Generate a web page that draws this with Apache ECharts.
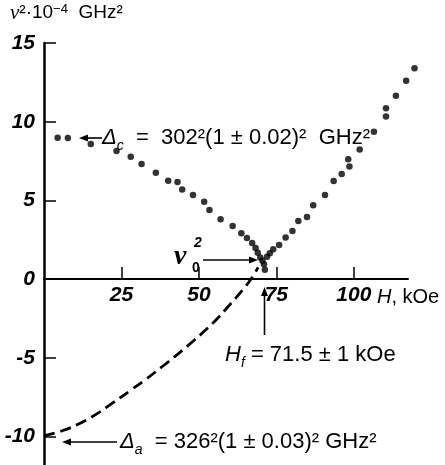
<!DOCTYPE html>
<html>
<head>
<meta charset="utf-8">
<script src="https://cdn.jsdelivr.net/npm/echarts@6/dist/echarts.min.js"></script>
<style>
  html, body { margin: 0; padding: 0; background: #fff; }
  #chart { width: 445px; height: 465px; }
</style>
</head>
<body>
<div id="chart"></div>
<script>
// field H (kOe) and nu^2 (10^4 GHz^2)
const leftH = [4.4, 7.7, 15.1, 23.4, 28.0, 31.5, 36.1, 40.1, 43.1, 44.6, 48.1, 51.7, 53.4, 57.0, 60.9,
  63.7, 65.5, 67.2, 68.3, 69.0, 69.8, 70.5, 71.0, 71.3];
const leftV = [8.98, 8.96, 8.58, 8.14, 7.77, 7.31, 6.76, 6.25, 6.17, 5.70, 5.34, 4.91, 4.39, 3.80, 3.38,
  2.92, 2.61, 2.29, 1.97, 1.68, 1.38, 1.16, 0.95, 0.60];
const rightH = [72.0, 72.9, 74.0, 75.9, 78.0, 80.2, 82.1, 84.9, 86.9, 90.7, 93.5, 96.1, 98.6, 98.2,
  101.9, 106.5, 110.4, 110.4, 113.6, 116.9, 119.6];
const rightV = [1.42, 1.65, 1.89, 2.16, 2.65, 3.06, 3.69, 3.94, 4.69, 5.34, 6.23, 6.68, 7.15, 7.61,
  8.23, 9.36, 10.33, 10.85, 11.65, 12.60, 13.39];
// dashed extrapolation down to -Delta_a
const dashH = [0, 6.1, 11.5, 16.9, 22.3, 27.7, 33.1, 38.4, 43.3, 48.1, 52.5, 56.2, 60.0, 64.0, 67.0, 69.1];
const dashV = [-9.95, -9.62, -9.17, -8.58, -7.85, -7.10, -6.33, -5.52, -4.75, -3.95, -3.17, -2.45,
  -1.62, -0.72, 0.05, 0.75];
const xTicks = [25, 50, 75, 100];
const yTicks = [-10, -5, 0, 5, 10, 15];

const zip = (a, b) => a.map((v, i) => [v, b[i]]);
const tickFont = {
  fontFamily: 'Liberation Sans', fontStyle: 'italic', fontWeight: 'bold', fontSize: 21, color: '#000'
};
const sans = 'Liberation Sans, Arial, sans-serif';

function arrow(x1, y1, x2, y2) {
  // shaft from (x1,y1) to head at (x2,y2)
  const a = Math.atan2(y2 - y1, x2 - x1), L = 9, W = 3.5;
  const bx = x2 - L * Math.cos(a), by = y2 - L * Math.sin(a);
  return [
    { type: 'line', shape: { x1, y1, x2: bx, y2: by }, style: { stroke: '#000', lineWidth: 1.6 } },
    { type: 'polygon', shape: { points: [[x2, y2],
      [bx + W * Math.sin(a), by - W * Math.cos(a)], [bx - W * Math.sin(a), by + W * Math.cos(a)]] },
      style: { fill: '#000' } }
  ];
}
function label(x, y, text, rich, size) {
  return { type: 'text', x, y, style: { text, rich, fill: '#000', fontFamily: sans,
    fontSize: size || 22, verticalAlign: 'middle', align: 'left' } };
}
const richBase = {
  i: { fontStyle: 'italic', fontFamily: sans, fontSize: 22 },
  s: { fontStyle: 'italic', fontFamily: sans, fontSize: 14, verticalAlign: 'bottom', padding: [0, 0, -4, 0] }
};
const richSmall = {
  i: { fontStyle: 'italic', fontFamily: sans, fontSize: 20 }
};

const chart = echarts.init(document.getElementById('chart'));
chart.setOption({
  animation: false,
  grid: { left: 44, right: 37, top: 43, bottom: -3, containLabel: false, outerBoundsMode: 'none' },
  xAxis: {
    type: 'value', min: 0, max: 117.5,
    // drawn at nu^2 = 0: grid bottom is 189 px below the zero line
    axisLine: { onZero: false, lineStyle: { color: '#000', width: 2 } },
    offset: -189,
    axisTick: { inside: true, length: 12, customValues: xTicks, lineStyle: { color: '#000', width: 1.5 } },
    axisLabel: Object.assign({ customValues: xTicks, margin: 6 }, tickFont),
    splitLine: { show: false }
  },
  yAxis: {
    type: 'value', min: -12, max: 15,
    axisLine: { show: true, lineStyle: { color: '#000', width: 2.5 } },
    axisTick: { inside: true, length: 12, customValues: yTicks, lineStyle: { color: '#000', width: 1.5 } },
    axisLabel: Object.assign({ customValues: yTicks, margin: 9,
      formatter: v => String(v) }, tickFont),
    splitLine: { show: false }
  },
  series: [
    { type: 'line', data: zip(dashH, dashV), smooth: true, showSymbol: false, silent: true,
      lineStyle: { color: '#000', width: 2.8, type: [11, 6] } },
    { type: 'scatter', data: zip(leftH, leftV), symbolSize: 6.5, clip: false,
      itemStyle: { color: '#000' } },
    { type: 'scatter', data: zip(rightH, rightV), symbolSize: 6.5, clip: false,
      itemStyle: { color: '#000' } }
  ],
  graphic: [
    label(10, 13, '{n|\u03bd}\u00b2\u00b7{v|10}{sup|\u22124}  GHz\u00b2', {
      n: { fontFamily: 'Liberation Serif', fontStyle: 'italic', fontSize: 21 },
      v: { fontFamily: sans, fontSize: 19 },
      sup: { fontFamily: sans, fontSize: 13, verticalAlign: 'top' }
    }, 19),
    label(102, 138, '{i|\u0394}{s|c}  =  302\u00b2(1 \u00b1 0.02)\u00b2  GHz\u00b2', richBase),
    label(120, 442, '{i|\u0394}{s|a}  = 326\u00b2(1 \u00b1 0.03)\u00b2 GHz\u00b2', richBase),
    label(225, 355, '{i|H}{s|f} = 71.5 \u00b1 1 kOe', richBase),
    label(377, 297, '{i|H}, kOe', richSmall, 20),
    { type: 'text', x: 174, y: 257, style: { text: '\u03bd', fill: '#000', fontFamily: 'Liberation Serif',
      fontStyle: 'italic', fontWeight: 'bold', fontSize: 28, verticalAlign: 'middle' } },
    { type: 'text', x: 194, y: 243, style: { text: '2', fill: '#000', fontFamily: sans,
      fontStyle: 'italic', fontWeight: 'bold', fontSize: 14, verticalAlign: 'middle' } },
    { type: 'text', x: 192, y: 268, style: { text: '0', fill: '#000', fontFamily: sans,
      fontWeight: 'bold', fontSize: 14, verticalAlign: 'middle' } },
    ...arrow(203, 260, 258, 260),
    ...arrow(264.5, 335, 264.5, 287),
    ...arrow(102, 138, 79, 138),
    ...arrow(117, 442, 62, 442)
  ]
});
</script>
</body>
</html>
